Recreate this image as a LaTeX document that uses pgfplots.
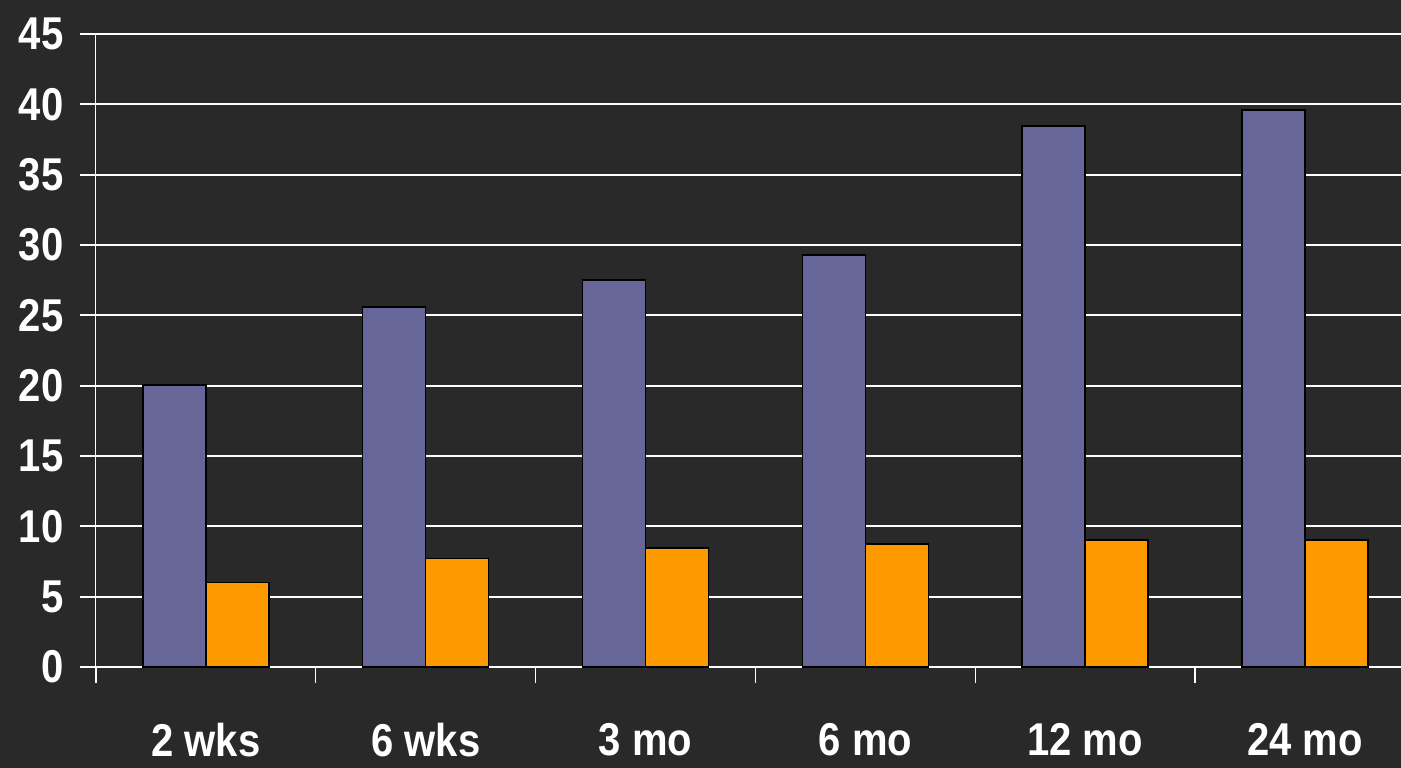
\documentclass[border=0pt]{standalone}
\usepackage{fontspec}
\setmainfont{Liberation Sans}[FakeStretch=0.87]
\usepackage{pgfplots}
\pgfplotsset{compat=1.18}
\definecolor{bg}{HTML}{292929}
\definecolor{barA}{HTML}{666699}
\definecolor{barB}{HTML}{FF9900}
\begin{document}
\begin{tikzpicture}[x=1pt,y=1pt]
\fill[bg] (0,0) rectangle (1401,768);
\path[use as bounding box] (0,0) rectangle (1401,768);
\begin{axis}[
  at={(96pt,101pt)}, anchor=south west,
  width=1305pt, height=633pt, scale only axis,
  xmin=-0.5, xmax=5.437, ymin=0, ymax=45,
  ybar=0pt, bar width=63pt,
  axis x line*=bottom, axis y line*=left,
  axis line style={white, line width=1pt},
  ytick={0,5,...,45},
  ymajorgrids, grid style={white, line width=2pt},
  xtick={-0.5,0.5,1.5,2.5,3.5,4.5},
  xticklabels={2 wks,6 wks,3 mo,6 mo,12 mo,24 mo},
  tick align=outside,
  major tick length=16pt,
  xtick style={white, line width=1.2pt},
  ytick style={white, line width=2pt},
  /pgf/number format/assume math mode=true,
  tick label style={font=\fontsize{46}{50}\selectfont\bfseries, text=white},
  yticklabel style={xshift=-13pt},
  xticklabel style={inner sep=0pt, xshift=110pt, yshift=-40pt},
  enlarge x limits=false,
  clip=false,
]
\addplot[fill=barA, draw=black, line width=1.5pt] coordinates {(0,20.05) (1,25.6) (2,27.5) (3,29.3) (4,38.45) (5,39.6)};
\addplot[fill=barB, draw=black, line width=1.5pt] coordinates {(0,6.0) (1,7.7) (2,8.45) (3,8.75) (4,9.03) (5,9.03)};
\end{axis}
\end{tikzpicture}
\end{document}
